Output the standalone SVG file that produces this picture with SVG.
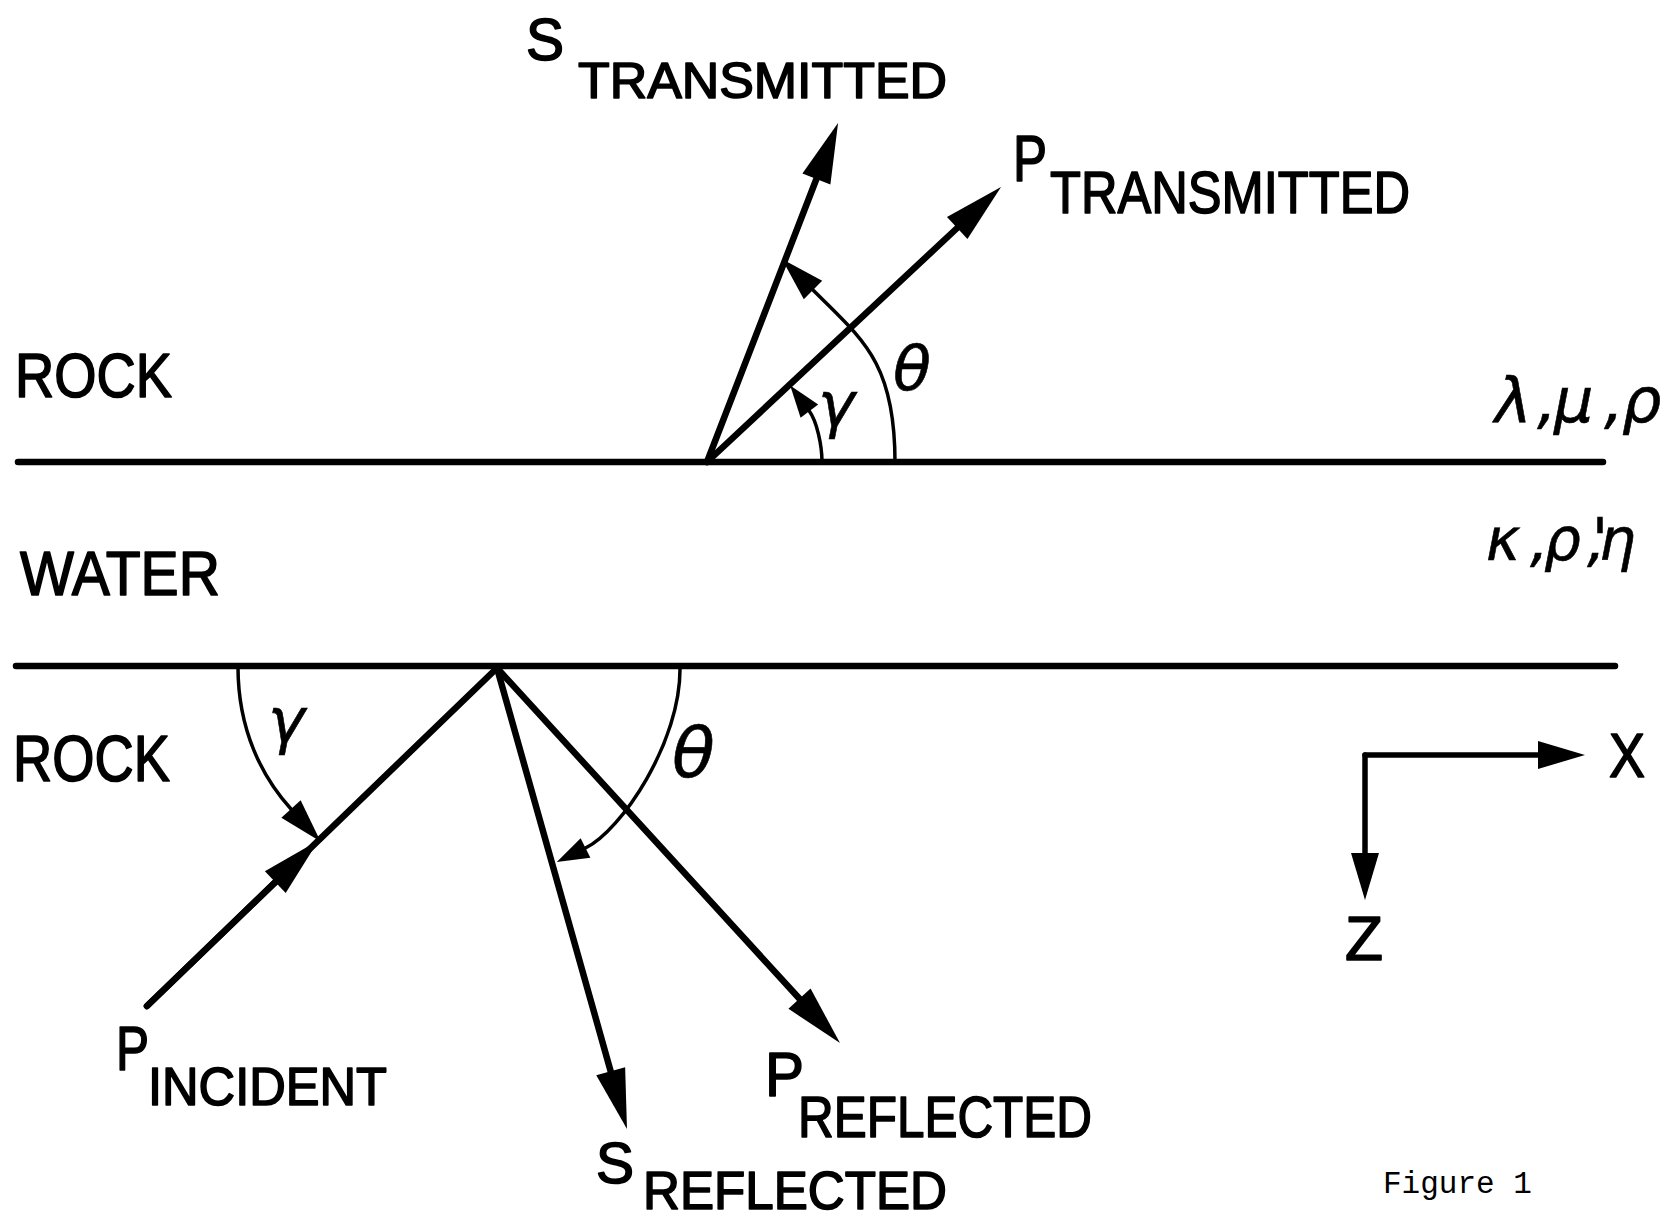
<svg xmlns="http://www.w3.org/2000/svg" width="1675" height="1221" viewBox="0 0 1675 1221">
<style>
.lbl{font-family:"Liberation Sans",Arial,sans-serif;fill:#000;stroke:#000;stroke-width:1.6;stroke-linejoin:round}
.gk{font-family:"DejaVu Sans",sans-serif;font-style:oblique;fill:#000;stroke:#000;stroke-width:0.6}
.mono{font-family:"Liberation Mono","Courier New",monospace;fill:#000}
.iface{stroke:#000;stroke-width:6.5;stroke-linecap:round;fill:none}
.ray{stroke:#000;stroke-width:6.5;stroke-linecap:round;fill:none}
.arc{stroke:#000;stroke-width:3.5;stroke-linecap:round;fill:none}
.axis{stroke:#000;stroke-width:5.5;stroke-linecap:round;fill:none}
</style>
<defs>
<marker id="mRay" markerUnits="userSpaceOnUse" orient="auto" refX="0" refY="0" markerWidth="60" markerHeight="30" overflow="visible"><path d="M0,-15 L60,0 L0,15 Z" fill="#000"/></marker>
<marker id="mAxis" markerUnits="userSpaceOnUse" orient="auto" refX="0" refY="0" markerWidth="47" markerHeight="28" overflow="visible"><path d="M0,-14 L47,0 L0,14 Z" fill="#000"/></marker>
<marker id="mArcS" markerUnits="userSpaceOnUse" orient="auto" refX="0" refY="0" markerWidth="32" markerHeight="22" overflow="visible"><path d="M0,-11 L32,0 L0,11 Z" fill="#000"/></marker>
<marker id="mArcL" markerUnits="userSpaceOnUse" orient="auto" refX="0" refY="0" markerWidth="44" markerHeight="26" overflow="visible"><path d="M0,-13 L44,0 L0,13 Z" fill="#000"/></marker>
</defs>
<rect width="1675" height="1221" fill="#fff"/>

<g id="interfaces">
<line class="iface" x1="18" y1="462" x2="1603" y2="462"/>
<line class="iface" x1="16" y1="666" x2="1615" y2="666"/>
</g>

<g id="connectors">
<path class="ray" d="M707,462 L816.4,179" marker-end="url(#mRay)"/>
<path class="ray" d="M707,462 L957.2,228" marker-end="url(#mRay)"/>
<path class="ray" d="M147,1006 L497,668"/>
<path class="ray" d="M147,1006 L275.3,882.1" marker-end="url(#mRay)"/>
<path class="ray" d="M497,668 L610.7,1071.3" marker-end="url(#mRay)"/>
<path class="ray" d="M497,668 L799.5,998.7" marker-end="url(#mRay)"/>
<path class="arc" d="M822,462 C822,445 816.6,420.8 809.4,411.2" marker-end="url(#mArcS)"/>
<path class="arc" d="M895,462 C895,362 862.5,339.5 813,290" marker-end="url(#mArcL)"/>
<path class="arc" d="M238,667 C238,730 262,777 291,809" marker-end="url(#mArcL)"/>
<path class="arc" d="M680,667 C681,742 621.3,830.4 585.5,848" marker-end="url(#mArcS)"/>
<path class="axis" d="M1365,755 L1538,755" marker-end="url(#mAxis)"/>
<path class="axis" d="M1365,755 L1365,853" marker-end="url(#mAxis)"/>
</g>

<g id="label-rock-top"><text class="lbl" x="15" y="397" font-size="63" textLength="157" lengthAdjust="spacingAndGlyphs">ROCK</text></g>
<g id="label-water"><text class="lbl" x="20" y="595" font-size="63" textLength="200" lengthAdjust="spacingAndGlyphs">WATER</text></g>
<g id="label-rock-bottom"><text class="lbl" x="13" y="781" font-size="64" textLength="157" lengthAdjust="spacingAndGlyphs">ROCK</text></g>

<g id="label-s-transmitted">
<text class="lbl" x="526" y="60" font-size="59" textLength="38" lengthAdjust="spacingAndGlyphs">S</text>
<text class="lbl" x="578" y="98" font-size="50" textLength="369" lengthAdjust="spacingAndGlyphs">TRANSMITTED</text>
</g>
<g id="label-p-transmitted">
<text class="lbl" x="1013" y="181" font-size="64" textLength="34" lengthAdjust="spacingAndGlyphs">P</text>
<text class="lbl" x="1050" y="213" font-size="60" textLength="360" lengthAdjust="spacingAndGlyphs">TRANSMITTED</text>
</g>
<g id="label-p-incident">
<text class="lbl" x="116" y="1070" font-size="63" textLength="33" lengthAdjust="spacingAndGlyphs">P</text>
<text class="lbl" x="148" y="1105" font-size="53" textLength="239" lengthAdjust="spacingAndGlyphs">INCIDENT</text>
</g>
<g id="label-s-reflected">
<text class="lbl" x="596" y="1183" font-size="57" textLength="38" lengthAdjust="spacingAndGlyphs">S</text>
<text class="lbl" x="643" y="1209" font-size="53" textLength="304" lengthAdjust="spacingAndGlyphs">REFLECTED</text>
</g>
<g id="label-p-reflected">
<text class="lbl" x="765" y="1096" font-size="63" textLength="39" lengthAdjust="spacingAndGlyphs">P</text>
<text class="lbl" x="798" y="1137" font-size="58" textLength="294" lengthAdjust="spacingAndGlyphs">REFLECTED</text>
</g>

<g id="angle-theta-top"><text class="gk" x="893" y="390" font-size="62">θ</text></g>
<g id="angle-gamma-top"><text class="gk" x="818" y="426" font-size="62">γ</text></g>
<g id="angle-gamma-bottom"><text class="gk" x="268" y="742" font-size="62">γ</text></g>
<g id="angle-theta-bottom"><text class="gk" x="672" y="777" font-size="70">θ</text></g>

<g id="props-rock"><text class="gk" x="1495 1537 1554 1604 1622" y="422" font-size="62">λ,μ,ρ</text></g>
<g id="props-water"><text class="gk" x="1486 1530 1544 1592 1587 1599" y="560" font-size="58">κ,ρ',η</text></g>

<g id="axis-x"><text class="lbl" x="1609" y="777" font-size="63" textLength="36" lengthAdjust="spacingAndGlyphs">X</text></g>
<g id="axis-z"><text class="lbl" x="1345" y="960" font-size="63" textLength="38" lengthAdjust="spacingAndGlyphs">Z</text></g>

<g id="caption"><text class="mono" x="1383" y="1193" font-size="31">Figure 1</text></g>
</svg>
